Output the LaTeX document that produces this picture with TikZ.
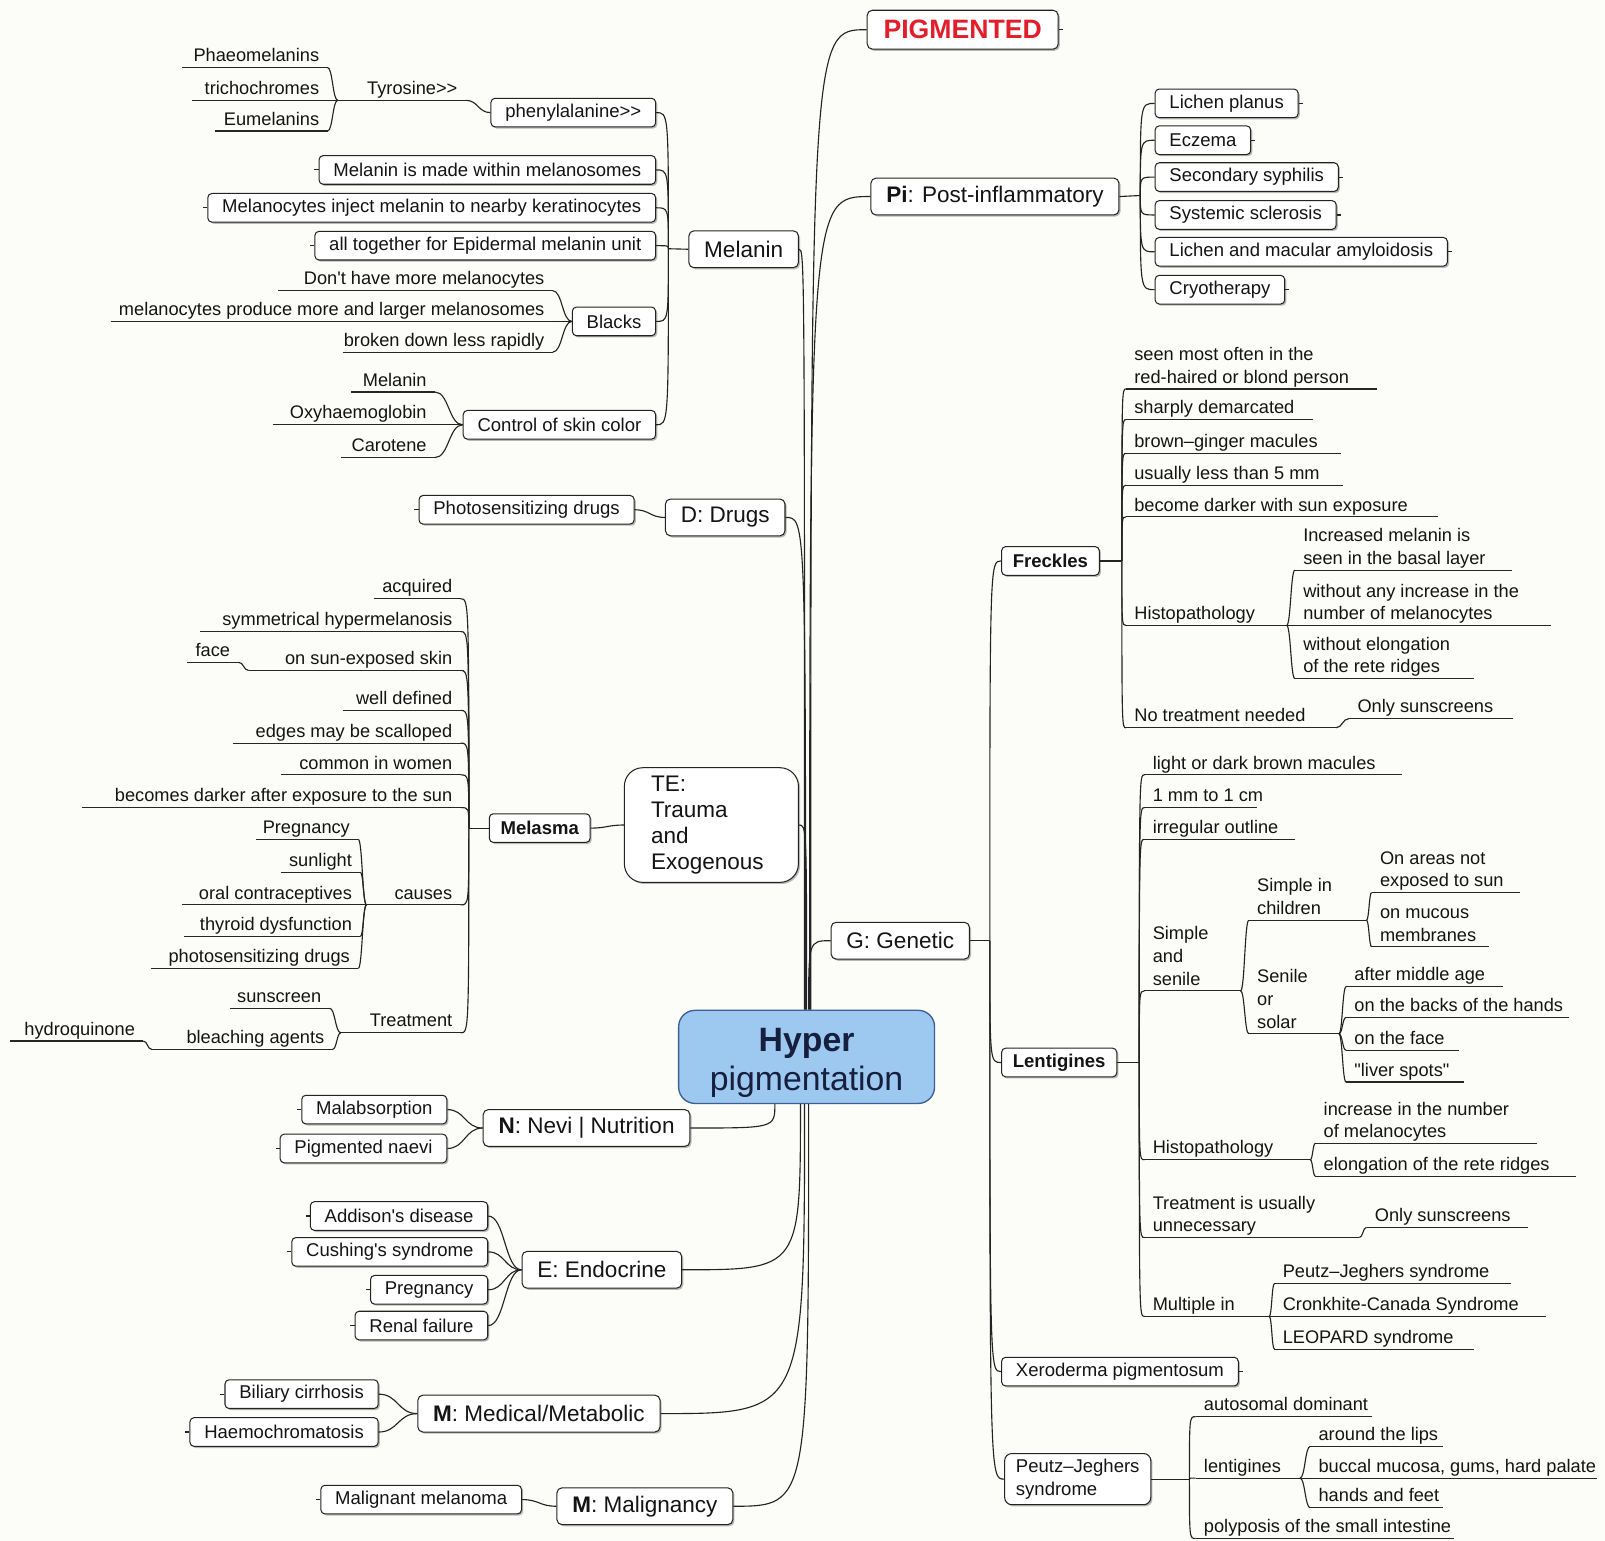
\documentclass[tikz,border=0pt]{standalone}
\usepackage{fontspec}
\setmainfont{Liberation Sans}[Ligatures=TeXOff]
\usetikzlibrary{shadows,calc}

\definecolor{bg}{RGB}{252,252,248}
\definecolor{ln}{RGB}{35,35,35}
\definecolor{txt}{RGB}{20,20,20}
\definecolor{hyfill}{RGB}{157,200,240}
\definecolor{hydraw}{RGB}{60,95,150}
\definecolor{hytext}{RGB}{22,32,62}
\definecolor{pigred}{RGB}{226,30,42}

\newcommand\fleaf{\fontsize{17.8}{22}\selectfont}
\newcommand\fleafbox{\fontsize{18.1}{22}\selectfont}
\newcommand\fmain{\fontsize{22}{25.5}\selectfont}
\newcommand\lowstrut{\rule[-5pt]{0pt}{5pt}}

\tikzset{
  conn/.style={draw=ln, line width=1.1pt},
  % vertical out of the start point, horizontal into the target
  jn/.style={to path={.. controls (\tikztostart |- \tikztotarget) .. (\tikztotarget)}},
  % bracket: horizontal at both ends, vertical part at fraction #1
  br/.style={to path={.. controls ($(\tikztostart)!#1!(\tikztostart -| \tikztotarget)$) and ($(\tikztotarget)!{1-#1}!(\tikztotarget -| \tikztostart)$) .. (\tikztotarget)}},
  br/.default=0.5,
  boxbase/.style={draw=ln, line width=1pt, fill=white, text=txt, rounded corners=4pt,
    drop shadow={shadow xshift=1.6pt, shadow yshift=-1.6pt, fill=black!35, opacity=0.8}},
  lbox/.style={boxbase, font=\fleafbox, minimum height=28pt, inner xsep=14pt, inner ysep=2pt},
  mbox/.style={boxbase, font=\fmain, minimum height=36pt, inner xsep=15pt, rounded corners=5pt},
  hybox/.style={draw=hydraw, fill=hyfill, line width=1.3pt, rounded corners=16pt,
    minimum width=250pt, minimum height=91pt, align=center, text=hytext,
    font=\fontsize{33}{38}\selectfont},
  leaf/.style={font=\fleaf, text=txt, inner xsep=8pt, inner ysep=0.5pt},
  ul/.style={draw=black!85, line width=1.1pt},
}

% underlined leaf on the left side: name, left end, right end, line y, text
\newcommand\lleaf[5]{%
  \node[leaf, anchor=south east, align=right] (#1) at (#3,#4) {#5\lowstrut};
  \coordinate (#1x) at (#2,#4);
  \draw[ul] (#1x) -- (#1x -| #1.south east);}
% underlined leaf on the right side: name, left end, right end, line y, text
\newcommand\rleaf[5]{%
  \node[leaf, anchor=south west, align=left] (#1) at (#2,#4) {#5\lowstrut};
  \coordinate (#1x) at (#3,#4);
  \draw[ul] (#1x -| #1.south west) -- (#1x);}
\newcommand\tickL[1]{\draw[conn] (#1.west) -- ++(-4,0);}
\newcommand\tickR[1]{\draw[conn] (#1.east) -- ++(4,0);}

\begin{document}
\begin{tikzpicture}[x=1pt,y=-1pt]
\useasboundingbox (0,0) rectangle (1568,1505);
\fill[bg] (0,0) rectangle (1568,1505);

% ---------------- central topic and main branches ----------------
\node[hybox] (hy) at (788,1032.5) {\rule{0pt}{34pt}\textbf{Hyper}\\pigmentation};

\node[mbox] (mel) at (726.5,243.5) {Melanin};
\node[mbox] (drugs) at (708.5,505.5) {D: Drugs};
\node[mbox, rounded corners=18pt, align=left, text width=118pt, inner xsep=26pt,
      minimum height=112pt] (te) at (695,806) {TE:\\Trauma\\and\\Exogenous};
\node[mbox, text=pigred, font=\fontsize{26}{30}\selectfont\bfseries,
      minimum height=38pt, inner xsep=16pt] (pig) at (940.5,29) {PIGMENTED};
\node[mbox] (pi) at (972,192) {\textbf{Pi}: Post-inflammatory};
\node[mbox] (gen) at (879.5,919) {G: Genetic};
\node[mbox] (nn) at (573,1102) {\textbf{N}: Nevi | Nutrition};
\node[mbox] (endo) at (588,1240.5) {E: Endocrine};
\node[mbox] (med) at (526.5,1381) {\textbf{M}: Medical/Metabolic};
\node[mbox] (mal) at (630,1471.5) {\textbf{M}: Malignancy};

\coordinate (tm) at ([xshift=-2pt]hy.north);
\coordinate (td) at ([xshift=-1pt]hy.north);
\coordinate (tt) at (hy.north);
\coordinate (tg) at ([xshift=2pt]hy.north);
\coordinate (tq) at ([xshift=3pt]hy.north);
\coordinate (tp) at ([xshift=4pt]hy.north);
\coordinate (bn) at ([xshift=-31pt]hy.south);
\coordinate (be) at ([xshift=-6pt]hy.south);
\coordinate (bm) at ([xshift=-2pt]hy.south);
\coordinate (bl) at ([xshift=2pt]hy.south);

\draw[conn] (tm) to[jn] (mel.east);
\draw[conn] (td) to[jn] (drugs.east);
\draw[conn] (tt) to[jn] (te.east);
\draw[conn] (tp) to[jn] (pig.west);
\draw[conn] (tq) to[jn] (pi.west);
\draw[conn] (tg) to[jn] (gen.west);
\draw[conn] (bn) to[jn] (nn.east);
\draw[conn] (be) to[jn] (endo.east);
\draw[conn] (bm) to[jn] (med.east);
\draw[conn] (bl) to[jn] (mal.east);
\tickR{pig}

% ---------------- Melanin ----------------
\node[lbox, anchor=east] (phen) at (641,110) {phenylalanine>{}>};
\node[lbox, anchor=east] (mm1) at (641,166) {Melanin is made within melanosomes};
\node[lbox, anchor=east] (mm2) at (641,203) {Melanocytes inject melanin to nearby keratinocytes};
\node[lbox, anchor=east] (mm3) at (641,240) {all together for Epidermal melanin unit};
\node[lbox, anchor=east] (blacks) at (641,314) {Blacks};
\node[lbox, anchor=east] (csc) at (641,415) {Control of skin color};
\tickL{mm1} \tickL{mm2} \tickL{mm3}

\coordinate (mj) at (653,243);
\draw[conn] (mel.west) -- (mj);
\draw[conn] (mj) to[jn] (phen.east);
\draw[conn] (mj) to[jn] (mm1.east);
\draw[conn] (mj) to[jn] (mm2.east);
\draw[conn] (mj) to[jn] (mm3.east);
\draw[conn] (mj) to[jn] (blacks.east);
\draw[conn] (mj) to[jn] (csc.east);

\lleaf{tyr}{330}{455}{98}{Tyrosine>{}>}
\lleaf{phae}{178}{320}{66}{Phaeomelanins}
\lleaf{trich}{188}{320}{98}{trichochromes}
\lleaf{eume}{210}{320}{128}{Eumelanins}
\draw[conn] (tyr.south east) to[br] (phen.west);
\draw[conn] (tyrx) to[br] (phae.south east);
\draw[conn] (tyrx) -- (trich.south east);
\draw[conn] (tyrx) to[br] (eume.south east);

\lleaf{dh}{272}{540}{284}{Don't have more melanocytes}
\lleaf{mp}{108}{540}{314}{melanocytes produce more and larger melanosomes}
\lleaf{bd}{335}{540}{344}{broken down less rapidly}
\draw[conn] (blacks.west) to[br] (dh.south east);
\draw[conn] (blacks.west) -- (mp.south east);
\draw[conn] (blacks.west) to[br] (bd.south east);

\lleaf{cm}{343}{425}{383}{Melanin}
\lleaf{co}{267}{425}{415}{Oxyhaemoglobin}
\lleaf{cc}{333}{425}{447}{Carotene}
\draw[conn] (csc.west) to[br] (cm.south east);
\draw[conn] (csc.west) -- (co.south east);
\draw[conn] (csc.west) to[br] (cc.south east);

% ---------------- Drugs ----------------
\node[lbox, anchor=east] (photo) at (620,498) {Photosensitizing drugs};
\tickL{photo}
\draw[conn] (drugs.west) to[br] (photo.east);

% ---------------- Trauma and Exogenous ----------------
\node[lbox, anchor=east, font=\fleafbox\bfseries, inner xsep=11pt] (melasma) at (577,809) {Melasma};
\draw[conn] (te.west) to[br] (melasma.east);

\lleaf{acq}{365}{450}{585}{acquired}
\lleaf{sym}{195}{450}{617}{symmetrical hypermelanosis}
\lleaf{sun}{243}{450}{655}{on sun-exposed skin}
\lleaf{face}{183}{233}{647}{face}
\lleaf{wd}{335}{450}{694}{well defined}
\lleaf{edg}{228}{450}{726}{edges may be scalloped}
\lleaf{cw}{275}{450}{757}{common in women}
\lleaf{bdk}{80}{450}{789}{becomes darker after exposure to the sun}
\lleaf{cau}{358}{450}{884}{causes}
\lleaf{trt}{333}{450}{1009}{Treatment}

\coordinate (msj) at (458,809);
\draw[conn] (melasma.west) -- (msj);
\draw[conn] (msj) to[jn] (acq.south east);
\draw[conn] (msj) to[jn] (sym.south east);
\draw[conn] (msj) to[jn] (sun.south east);
\draw[conn] (msj) to[jn] (wd.south east);
\draw[conn] (msj) to[jn] (edg.south east);
\draw[conn] (msj) to[jn] (cw.south east);
\draw[conn] (msj) to[jn] (bdk.south east);
\draw[conn] (msj) to[jn] (cau.south east);
\draw[conn] (msj) to[jn] (trt.south east);
\draw[conn] (face.south east) to[br] (sunx);

\lleaf{preg}{250}{350}{820}{Pregnancy}
\lleaf{sunl}{275}{352}{852}{sunlight}
\lleaf{oc}{178}{352}{884}{oral contraceptives}
\lleaf{thy}{180}{352}{915}{thyroid dysfunction}
\lleaf{phd}{148}{350}{946}{photosensitizing drugs}
\draw[conn] (caux) to[br] (preg.south east);
\draw[conn] (caux) to[br] (sunl.south east);
\draw[conn] (caux) -- (oc.south east);
\draw[conn] (caux) to[br] (thy.south east);
\draw[conn] (caux) to[br] (phd.south east);

\lleaf{scr}{225}{322}{985}{sunscreen}
\lleaf{ba}{148}{325}{1025}{bleaching agents}
\lleaf{hq}{10}{140}{1017}{hydroquinone}
\draw[conn] (trtx) to[br] (scr.south east);
\draw[conn] (trtx) to[br] (ba.south east);
\draw[conn] (hq.south east) to[br] (bax);

% ---------------- Nevi | Nutrition ----------------
\node[lbox, anchor=east] (malab) at (437,1084) {Malabsorption};
\node[lbox, anchor=east] (pignaev) at (437,1122) {Pigmented naevi};
\tickL{malab} \tickL{pignaev}
\draw[conn] (nn.west) to[br] (malab.east);
\draw[conn] (nn.west) to[br] (pignaev.east);

% ---------------- Endocrine ----------------
\node[lbox, anchor=east] (addison) at (477,1188) {Addison's disease};
\node[lbox, anchor=east] (cushing) at (477,1223) {Cushing's syndrome};
\node[lbox, anchor=east] (prege) at (477,1260) {Pregnancy};
\node[lbox, anchor=east] (renal) at (477,1295) {Renal failure};
\tickL{addison} \tickL{cushing} \tickL{prege} \tickL{renal}
\draw[conn] (endo.west) to[br] (addison.east);
\draw[conn] (endo.west) to[br] (cushing.east);
\draw[conn] (endo.west) to[br] (prege.east);
\draw[conn] (endo.west) to[br] (renal.east);

% ---------------- Medical / Metabolic ----------------
\node[lbox, anchor=east] (biliary) at (370,1362) {Biliary cirrhosis};
\node[lbox, anchor=east] (haemo) at (370,1399) {Haemochromatosis};
\tickL{biliary} \tickL{haemo}
\draw[conn] (med.west) to[br] (biliary.east);
\draw[conn] (med.west) to[br] (haemo.east);

% ---------------- Malignancy ----------------
\node[lbox, anchor=east] (malmel) at (510,1465) {Malignant melanoma};
\tickL{malmel}
\draw[conn] (mal.west) to[br] (malmel.east);

% ---------------- Post-inflammatory ----------------
\node[lbox, anchor=west] (lp) at (1128,101) {Lichen planus};
\node[lbox, anchor=west] (ecz) at (1128,137) {Eczema};
\node[lbox, anchor=west] (ssy) at (1128,173) {Secondary syphilis};
\node[lbox, anchor=west] (ssc) at (1128,210) {Systemic sclerosis};
\node[lbox, anchor=west] (lma) at (1128,246) {Lichen and macular amyloidosis};
\node[lbox, anchor=west] (cryo) at (1128,283) {Cryotherapy};
\tickR{lp} \tickR{ecz} \tickR{ssy} \tickR{ssc} \tickR{lma} \tickR{cryo}
\coordinate (pj) at (1114,191);
\draw[conn] (pi.east) -- (pj);
\draw[conn] (pj) to[jn] (lp.west);
\draw[conn] (pj) to[jn] (ecz.west);
\draw[conn] (pj) to[jn] (ssy.west);
\draw[conn] (pj) to[jn] (ssc.west);
\draw[conn] (pj) to[jn] (lma.west);
\draw[conn] (pj) to[jn] (cryo.west);

% ---------------- Genetic ----------------
\node[lbox, anchor=west, font=\fleafbox\bfseries, inner xsep=11pt] (fr) at (978,548) {Freckles};
\node[lbox, anchor=west, font=\fleafbox\bfseries, inner xsep=11pt] (lent) at (978,1038) {Lentigines};
\node[lbox, anchor=west] (xero) at (978,1340) {Xeroderma pigmentosum};
\node[lbox, anchor=west, align=left, rounded corners=7pt, minimum height=50pt, inner xsep=11pt] (pjs) at (981,1445) {Peutz–Jeghers\\syndrome};
\tickR{xero}
\coordinate (gj) at (967,919);
\draw[conn] (gen.east) -- (gj);
\draw[conn] (gj) to[jn] (fr.west);
\draw[conn] (gj) to[jn] (lent.west);
\draw[conn] (gj) to[jn] (xero.west);
\draw[conn] (gj) to[jn] (pjs.west);

% Freckles
\rleaf{f1}{1100}{1345}{380}{seen most often in the\\red-haired or blond person}
\rleaf{f2}{1100}{1283}{410}{sharply demarcated}
\rleaf{f3}{1100}{1310}{443}{brown–ginger macules}
\rleaf{f4}{1100}{1312}{474}{usually less than 5 mm}
\rleaf{f5}{1100}{1405}{505}{become darker with sun exposure}
\rleaf{fh}{1100}{1257}{611}{Histopathology}
\rleaf{fn}{1100}{1305}{711}{No treatment needed}
\coordinate (fj) at (1096,548);
\draw[conn] (fr.east) -- (fj);
\draw[conn] (fj) to[jn] (f1.south west);
\draw[conn] (fj) to[jn] (f2.south west);
\draw[conn] (fj) to[jn] (f3.south west);
\draw[conn] (fj) to[jn] (f4.south west);
\draw[conn] (fj) to[jn] (f5.south west);
\draw[conn] (fj) to[jn] (fh.south west);
\draw[conn] (fj) to[jn] (fn.south west);

\rleaf{fh1}{1265}{1477}{557}{Increased melanin is\\seen in the basal layer}
\rleaf{fh2}{1265}{1515}{611}{without any increase in the\\number of melanocytes}
\rleaf{fh3}{1265}{1440}{663}{without elongation\\of the rete ridges}
\draw[conn] (fhx) to[br] (fh1.south west);
\draw[conn] (fhx) -- (fh2.south west);
\draw[conn] (fhx) to[br] (fh3.south west);
\rleaf{fns}{1318}{1478}{702}{Only sunscreens}
\draw[conn] (fnx) to[br] (fns.south west);

% Lentigines
\rleaf{l1}{1118}{1370}{757}{light or dark brown macules}
\rleaf{l2}{1118}{1228}{789}{1 mm to 1 cm}
\rleaf{l3}{1118}{1265}{820}{irregular outline}
\rleaf{ls}{1118}{1212}{968}{Simple\\and\\senile}
\rleaf{lh}{1118}{1280}{1133}{Histopathology}
\rleaf{lt}{1118}{1328}{1209}{Treatment is usually\\unnecessary}
\rleaf{lm}{1118}{1240}{1286}{Multiple in}
\coordinate (lj) at (1113,1038);
\draw[conn] (lent.east) -- (lj);
\draw[conn] (lj) to[jn] (l1.south west);
\draw[conn] (lj) to[jn] (l2.south west);
\draw[conn] (lj) to[jn] (l3.south west);
\draw[conn] (lj) to[jn] (ls.south west);
\draw[conn] (lj) to[jn] (lh.south west);
\draw[conn] (lj) to[jn] (lt.south west);
\draw[conn] (lj) to[jn] (lm.south west);

\rleaf{lsc}{1220}{1335}{899}{Simple in\\children}
\rleaf{lss}{1220}{1308}{1010}{Senile\\or\\solar}
\draw[conn] (lsx) to[br] (lsc.south west);
\draw[conn] (lsx) to[br] (lss.south west);
\rleaf{lsca}{1340}{1485}{872}{On areas not\\exposed to sun}
\rleaf{lscb}{1340}{1455}{925}{on mucous\\membranes}
\draw[conn] (lscx) to[br] (lsca.south west);
\draw[conn] (lscx) to[br] (lscb.south west);
\rleaf{lssa}{1315}{1468}{964}{after middle age}
\rleaf{lssb}{1315}{1533}{994}{on the backs of the hands}
\rleaf{lssc}{1315}{1425}{1026}{on the face}
\rleaf{lssd}{1315}{1430}{1057}{"liver spots"}
\draw[conn] (lssx) to[br] (lssa.south west);
\draw[conn] (lssx) to[br] (lssb.south west);
\draw[conn] (lssx) to[br] (lssc.south west);
\draw[conn] (lssx) to[br] (lssd.south west);

\rleaf{lha}{1285}{1502}{1117}{increase in the number\\of melanocytes}
\rleaf{lhb}{1285}{1540}{1149}{elongation of the rete ridges}
\draw[conn] (lhx) to[br] (lha.south west);
\draw[conn] (lhx) to[br] (lhb.south west);
\rleaf{lts}{1335}{1493}{1199}{Only sunscreens}
\draw[conn] (ltx) to[br] (lts.south west);
\rleaf{lma1}{1245}{1476}{1254}{Peutz–Jeghers syndrome}
\rleaf{lma2}{1245}{1510}{1286}{Cronkhite-Canada Syndrome}
\rleaf{lma3}{1245}{1440}{1318}{LEOPARD syndrome}
\draw[conn] (lmx) to[br] (lma1.south west);
\draw[conn] (lmx) -- (lma2.south west);
\draw[conn] (lmx) to[br] (lma3.south west);

% Peutz-Jeghers syndrome
\rleaf{pa}{1168}{1340}{1384}{autosomal dominant}
\rleaf{pl}{1168}{1270}{1444}{lentigines}
\rleaf{pp}{1168}{1420}{1503}{polyposis of the small intestine}
\coordinate (pjj) at (1162,1445);
\draw[conn] (pjs.east) -- (pjj);
\draw[conn] (pjj) to[jn] (pa.south west);
\draw[conn] (pjj) to[jn] (pl.south west);
\draw[conn] (pjj) to[jn] (pp.south west);
\rleaf{pla}{1280}{1410}{1413}{around the lips}
\rleaf{plb}{1280}{1560}{1444}{buccal mucosa, gums, hard palate}
\rleaf{plc}{1280}{1410}{1473}{hands and feet}
\draw[conn] (plx) to[br] (pla.south west);
\draw[conn] (plx) -- (plb.south west);
\draw[conn] (plx) to[br] (plc.south west);
\end{tikzpicture}
\end{document}
